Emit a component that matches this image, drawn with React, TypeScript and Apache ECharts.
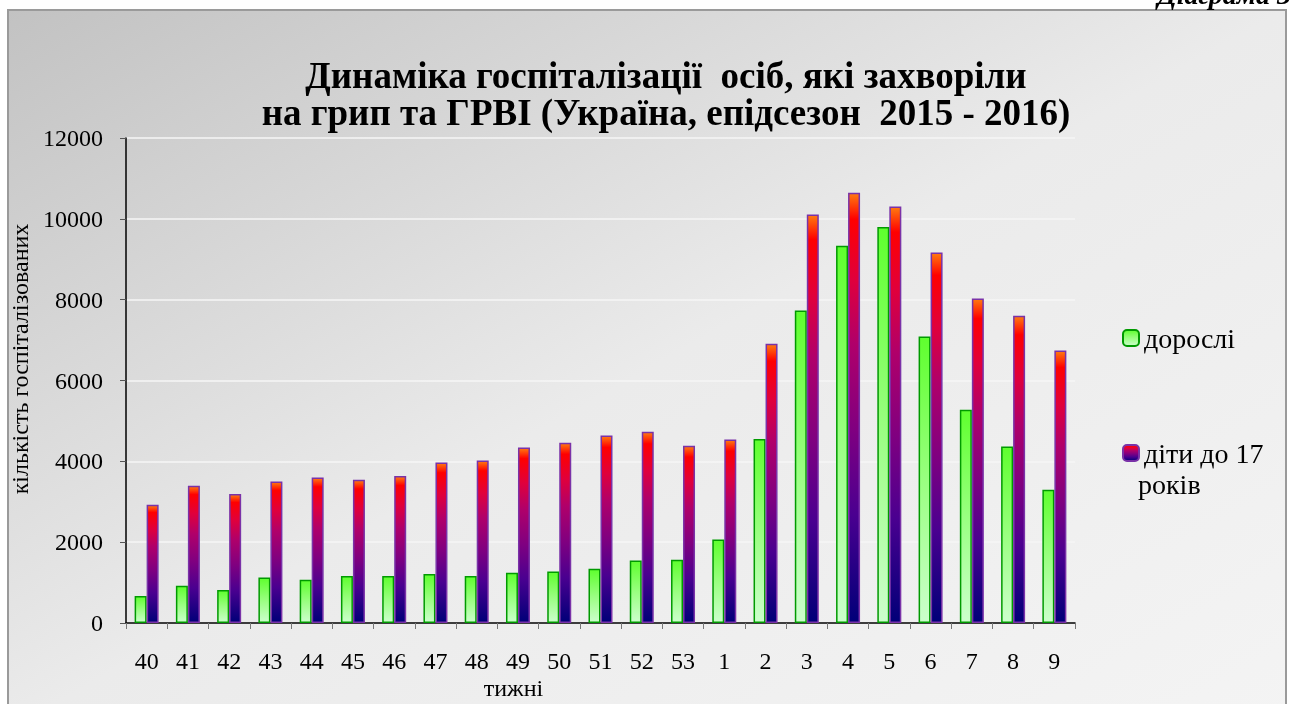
import React, { useEffect, useRef } from "react";
import * as echarts from "echarts";

const weeks = ["40", "41", "42", "43", "44", "45", "46", "47", "48", "49", "50", "51", "52", "53", "1", "2", "3", "4", "5", "6", "7", "8", "9"];
const adults = [670, 920, 816, 1128, 1071, 1163, 1163, 1212, 1163, 1245, 1277, 1343, 1549, 1566, 2068, 4552, 7734, 9334, 9797, 7091, 5277, 4369, 3298];
const children = [2925, 3397, 3190, 3503, 3602, 3545, 3637, 3973, 4023, 4344, 4461, 4641, 4733, 4388, 4543, 6910, 10109, 10646, 10307, 9169, 8031, 7603, 6744];
const yTicks = { min: 0, max: 12000, interval: 2000 };

const FONT = "'Liberation Serif', 'Times New Roman', serif";

export default function App() {
  const ref = useRef<HTMLDivElement>(null);
  useEffect(() => {
    if (!ref.current) return;
    const chart = echarts.init(ref.current, null, { renderer: "svg" });
    const greenGrad = new echarts.graphic.LinearGradient(0, 0, 0, 1, [
      { offset: 0, color: "#5fff2e" },
      { offset: 0.5, color: "#99ff80" },
      { offset: 1, color: "#ccffcc" },
    ]);
    const redGrad = new echarts.graphic.LinearGradient(0, 0, 0, 1, [
      { offset: 0, color: "#ff7a10" },
      { offset: 0.06, color: "#ff0000" },
      { offset: 0.2, color: "#e0003c" },
      { offset: 0.35, color: "#b0006a" },
      { offset: 0.55, color: "#800080" },
      { offset: 0.75, color: "#4a0090" },
      { offset: 1, color: "#000078" },
    ]);
    chart.setOption({
      animation: false,
      textStyle: { fontFamily: FONT },
      graphic: [
        {
          type: "rect",
          z: -10,
          silent: true,
          shape: { x: 8, y: 10, width: 1278, height: 720 },
          style: {
            fill: new echarts.graphic.LinearGradient(0, 0, 1, 1, [
              { offset: 0, color: "#c2c2c2" },
              { offset: 0.5, color: "#ebebeb" },
              { offset: 1, color: "#f4f4f4" },
            ]),
            stroke: "#9a9a9a",
            lineWidth: 2,
          },
        },
        {
          type: "text",
          x: 1291,
          y: 8,
          style: {
            text: "Діаграма 3",
            fontFamily: FONT,
            fontSize: 28,
            fontWeight: "bold",
            fontStyle: "italic",
            fill: "#000",
            align: "right",
            verticalAlign: "bottom",
          },
        },
        {
          type: "text",
          x: 1138,
          y: 484,
          style: {
            text: "років",
            fontFamily: FONT,
            fontSize: 28,
            fill: "#000",
            align: "left",
            verticalAlign: "middle",
          },
        },
      ],
      title: {
        text: "Динаміка госпіталізації  осіб, які захворіли\nна грип та ГРВІ (Україна, епідсезон  2015 - 2016)",
        left: 661,
        top: 52,
        textAlign: "center",
        textStyle: {
          fontFamily: FONT,
          fontSize: 37,
          fontWeight: "bold",
          color: "#000",
          lineHeight: 37,
        },
      },
      legend: [
        {
          data: ["дорослі"],
          left: 1117,
          top: 319,
          orient: "vertical",
          itemWidth: 16,
          itemHeight: 16,
          itemGap: 6,
          textStyle: { fontFamily: FONT, fontSize: 28, color: "#000" },
        },
        {
          data: ["діти до 17 років"],
          formatter: () => "діти до 17",
          left: 1117,
          top: 434,
          orient: "vertical",
          itemWidth: 16,
          itemHeight: 16,
          textStyle: { fontFamily: FONT, fontSize: 28, color: "#000" },
        },
      ],
      grid: { left: 126, right: 216, top: 138, bottom: 81, containLabel: false, outerBoundsMode: "none" },
      xAxis: {
        type: "category",
        data: weeks,
        name: "тижні",
        nameLocation: "middle",
        nameGap: 53,
        nameMoveOverlap: false,
        nameTextStyle: { fontFamily: FONT, fontSize: 24, color: "#000", padding: [0, 174, 0, 0] },
        axisLine: { lineStyle: { color: "#000", width: 1.5 } },
        axisTick: { show: true, length: 6, lineStyle: { color: "#777" } },
        axisLabel: { margin: 26, fontFamily: FONT, fontSize: 24, color: "#000" },
      },
      yAxis: {
        type: "value",
        min: yTicks.min,
        max: yTicks.max,
        interval: yTicks.interval,
        name: "кількість госпіталізованих",
        nameLocation: "middle",
        nameGap: 76,
        nameTextStyle: { fontFamily: FONT, fontSize: 24, color: "#000", padding: [0, 0, 0, 43] },
        axisLine: { show: true, lineStyle: { color: "#000", width: 1.5 } },
        axisTick: { show: true, length: 6, lineStyle: { color: "#555" } },
        axisLabel: {
          margin: 23,
          fontFamily: FONT,
          fontSize: 24,
          color: "#000",
          formatter: (v: number) => String(v),
        },
        splitLine: { show: true, lineStyle: { color: "#f6f6f6", width: 1.5 } },
      },
      series: [
        {
          name: "дорослі",
          type: "bar",
          data: adults,
          barWidth: 12,
          barGap: "0%",
          itemStyle: { color: greenGrad, borderColor: "#009a00", borderWidth: 1.5 },
        },
        {
          name: "діти до 17 років",
          type: "bar",
          data: children,
          barWidth: 12,
          barGap: "0%",
          itemStyle: { color: redGrad, borderColor: "#7a32a8", borderWidth: 1.5 },
        },
      ],
    });
    return () => chart.dispose();
  }, []);
  return <div ref={ref} style={{ position: "fixed", left: 0, top: 0, width: 1291, height: 704 }} />;
}
